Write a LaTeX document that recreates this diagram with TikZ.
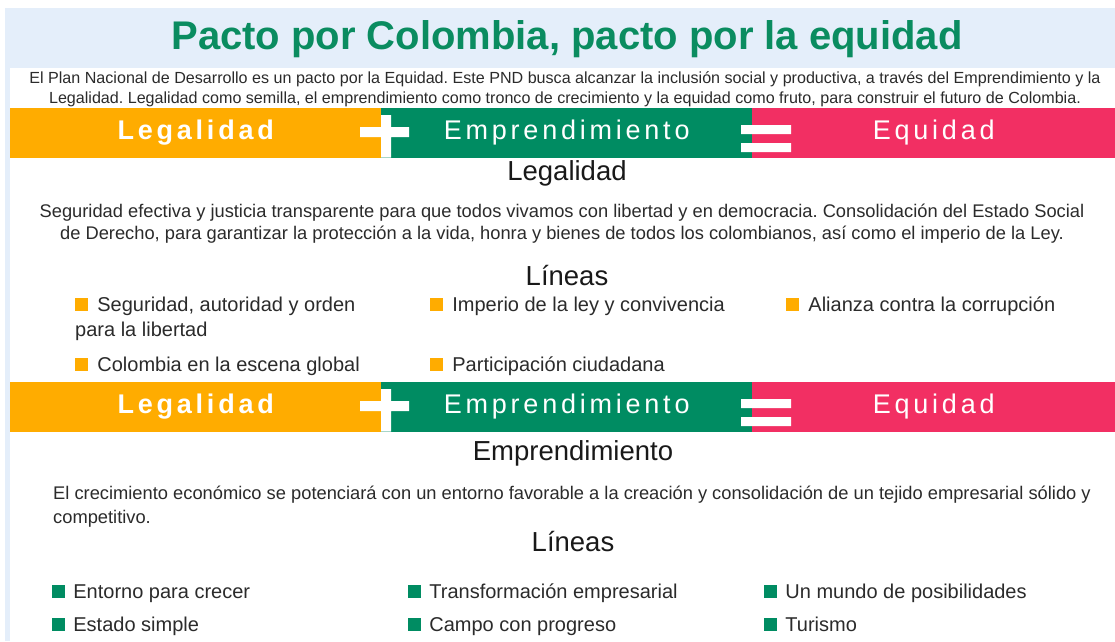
\documentclass[tikz,border=0pt]{standalone}
\usepackage{fontspec}
\setmainfont{Liberation Sans}
\newfontfamily\barfont[LetterSpace=14]{Liberation Sans}
\usepackage{tikz}
\usetikzlibrary{positioning}
\definecolor{pactblue}{HTML}{E4EEFA}
\definecolor{pactgreen}{HTML}{0A8C60}
\definecolor{legorange}{HTML}{FFAC00}
\definecolor{empgreen}{HTML}{008C62}
\definecolor{equpink}{HTML}{F22F63}
\definecolor{bodytext}{HTML}{2B2B2B}
\frenchspacing

\begin{document}
\begin{tikzpicture}[x=1pt,y=-1pt]
		\tikzstyle{barpart}=[rectangle,anchor=north west,minimum height=49.5pt,inner sep=0pt,
			text=white,font=\barfont\fontsize{27}{27}\selectfont];
		\tikzstyle{heading}=[text=black!90,inner sep=0pt,font=\fontsize{27.5}{27.5}\selectfont];
		\tikzstyle{para}=[text=bodytext,align=center,inner sep=0pt];
		\tikzstyle{osq}=[rectangle,fill=legorange,minimum size=13pt,inner sep=0pt];
		\tikzstyle{gsq}=[rectangle,fill=empgreen,minimum size=13pt,inner sep=0pt];
		\tikzstyle{item}=[text=bodytext,inner sep=0pt,text height=15pt,text depth=1pt,
			font=\fontsize{20}{20}\selectfont];
		\tikzstyle{sign}=[fill=white,draw=none];
		\useasboundingbox (0,0) rectangle (1115,641);
		\fill[pactblue] (5,8) rectangle (1115,641);
		\fill[white] (10,68) rectangle (1115,641);

		% title and intro
		\node[text=pactgreen,font=\bfseries\fontsize{40}{40}\selectfont] (title) at (567,39) {Pacto por Colombia, pacto por la equidad};
		\node[para,font=\fontsize{16.1}{20}\selectfont] (intro) at (565,89) {El Plan Nacional de Desarrollo es un pacto por la Equidad. Este PND busca alcanzar la inclusión social y productiva, a través del Emprendimiento y la\\Legalidad. Legalidad como semilla, el emprendimiento como tronco de crecimiento y la equidad como fruto, para construir el futuro de Colombia.};

		% first bar
		\node[barpart,fill=legorange,minimum width=371pt] (leg1) at (10,108) {\bfseries Legalidad};
		\node[barpart,fill=empgreen,minimum width=371pt] (emp1) at (381,108) {Emprendimiento};
		\node[barpart,fill=equpink,minimum width=363pt] (equ1) at (752,108) {Equidad};
		\fill[sign] (360,127) rectangle (409,137) (381,115) rectangle (391,157.5);
		\fill[sign] (741,125) rectangle (791,134) (741,143) rectangle (791,152);

		% Legalidad
		\node[heading] (hleg) at (567,173) {Legalidad};
		\node[para,font=\fontsize{18.3}{22}\selectfont] (pleg) at (562,224) {Seguridad efectiva y justicia transparente para que todos vivamos con libertad y en democracia. Consolidación del Estado Social\\de Derecho, para garantizar la protección a la vida, honra y bienes de todos los colombianos, así como el imperio de la Ley.};
		\node[heading] (lleg) at (567,276) {Líneas};
		\node[osq] (o1) at (81.5,304) {};
		\node[item,right=9pt of o1] (ol1) {Seguridad, autoridad y orden};
		\node[item,anchor=west] (ol1b) at (75,329) {para la libertad};
		\node[osq] (o2) at (436.5,304) {};
		\node[item,right=9pt of o2] (ol2) {Imperio de la ley y convivencia};
		\node[osq] (o3) at (792.5,304) {};
		\node[item,right=9pt of o3] (ol3) {Alianza contra la corrupción};
		\node[osq] (o4) at (81.5,364) {};
		\node[item,right=9pt of o4] (ol4) {Colombia en la escena global};
		\node[osq] (o5) at (436.5,364) {};
		\node[item,right=9pt of o5] (ol5) {Participación ciudadana};

		% second bar
		\node[barpart,fill=legorange,minimum width=371pt] (leg2) at (10,382) {\bfseries Legalidad};
		\node[barpart,fill=empgreen,minimum width=371pt] (emp2) at (381,382) {Emprendimiento};
		\node[barpart,fill=equpink,minimum width=363pt] (equ2) at (752,382) {Equidad};
		\fill[sign] (360,401) rectangle (409,411) (381,389) rectangle (391,431.5);
		\fill[sign] (741,399) rectangle (791,408) (741,417) rectangle (791,426);

		% Emprendimiento
		\node[heading] (hemp) at (573,453) {Emprendimiento};
		\node[para,align=left,font=\fontsize{18.3}{24}\selectfont,anchor=west] (pemp) at (53,507) {El crecimiento económico se potenciará con un entorno favorable a la creación y consolidación de un tejido empresarial sólido y\\competitivo.};
		\node[heading] (lemp) at (573,541) {Líneas};
		\node[gsq] (g1) at (58.5,591) {};
		\node[item,right=8pt of g1] (gl1) {Entorno para crecer};
		\node[gsq] (g2) at (414.5,591) {};
		\node[item,right=8pt of g2] (gl2) {Transformación empresarial};
		\node[gsq] (g3) at (770.5,591) {};
		\node[item,right=8pt of g3] (gl3) {Un mundo de posibilidades};
		\node[gsq] (g4) at (58.5,624) {};
		\node[item,right=8pt of g4] (gl4) {Estado simple};
		\node[gsq] (g5) at (414.5,624) {};
		\node[item,right=8pt of g5] (gl5) {Campo con progreso};
		\node[gsq] (g6) at (770.5,624) {};
		\node[item,right=8pt of g6] (gl6) {Turismo};
\end{tikzpicture}
\end{document}
